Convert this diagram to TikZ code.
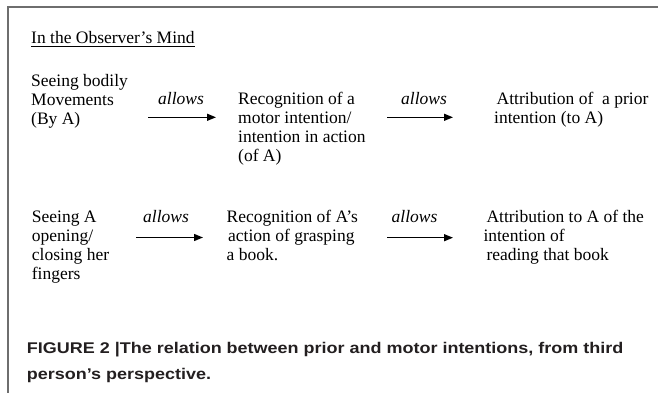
\documentclass[tikz,border=0pt]{standalone}
\usepackage{fontspec}
\setmainfont{Liberation Serif}
\newfontfamily\capfont[FakeStretch=1.16]{Liberation Sans}
\usetikzlibrary{arrows.meta}
\definecolor{framegray}{HTML}{6E6E6E}
\definecolor{capcol}{HTML}{231F20}
\newcommand\blk[1]{\begin{tabular}[t]{@{}l@{}}#1\end{tabular}}
\tikzset{
  body/.style={anchor=base west, inner sep=0pt, font=\fontsize{17.5}{19}\selectfont},
  verb/.style={anchor=base west, inner sep=0pt, font=\fontsize{17.5}{19}\selectfont\itshape},
  conn/.style={line width=1.3pt, -{Triangle[length=9pt,width=7pt]}},
  capt/.style={anchor=base west, inner sep=0pt, text=capcol, font=\fontsize{15.5}{25.7}\capfont\bfseries},
  frame/.style={draw=framegray, line width=1.3pt}
}
\begin{document}
\begin{tikzpicture}[x=1pt,y=-1pt]
\useasboundingbox (0,0) rectangle (658,393);
\fill[white] (0,0) rectangle (658,393);
% frame
\coordinate (fb) at (8,393.5);
\coordinate (fc) at (8,7);
\coordinate (fr) at (658.5,7);
\draw[frame] (fb) -- (fc) -- (fr);
% title
\node[body] (title) at (31,43.3) {In the Observer’s Mind};
\draw[line width=0.9pt] ([yshift=-3.4pt]title.base west) -- ([yshift=-3.4pt]title.base east);
% row 1
\node[body] (s1) at (31,86.5) {\blk{Seeing bodily\\Movements\\(By A)}};
\node[verb] (v1) at (158,105) {allows};
\coordinate (a1s) at (148,117.3);
\coordinate (a1e) at (216,117.3);
\draw[conn] (a1s) -- (a1e);
\node[body] (r1) at (238,105) {\blk{Recognition of a\\motor intention/\\intention in action\\(of A)}};
\node[verb] (v2) at (401,105) {allows};
\coordinate (a2s) at (387,117.3);
\coordinate (a2e) at (453,117.3);
\draw[conn] (a2s) -- (a2e);
\node[body] (t1) at (494,105) {\blk{\hspace{2.5pt}Attribution of\ \ a prior\\intention (to A)}};
% row 2
\node[body] (s2) at (31.7,222) {\blk{Seeing A\\opening/\\closing her\\fingers}};
\node[verb] (v3) at (143,222) {allows};
\coordinate (a3s) at (136,237.5);
\coordinate (a3e) at (203,237.5);
\draw[conn] (a3s) -- (a3e);
\node[body] (r2) at (226.5,222) {\blk{Recognition of A’s\\\hspace{1.5pt}action of grasping\\a book.}};
\node[verb] (v4) at (391.5,222) {allows};
\coordinate (a4s) at (387,237.7);
\coordinate (a4e) at (453,237.7);
\draw[conn] (a4s) -- (a4e);
\node[body] (t2) at (483.3,222) {\blk{\hspace{3pt}Attribution to A of the\\intention of\\\hspace{3pt}reading that book}};
% caption
\node[capt] (cap) at (26.7,353.3) {\blk{FIGURE 2 |The relation between prior and motor intentions, from third\\person’s perspective.}};
\end{tikzpicture}
\end{document}
